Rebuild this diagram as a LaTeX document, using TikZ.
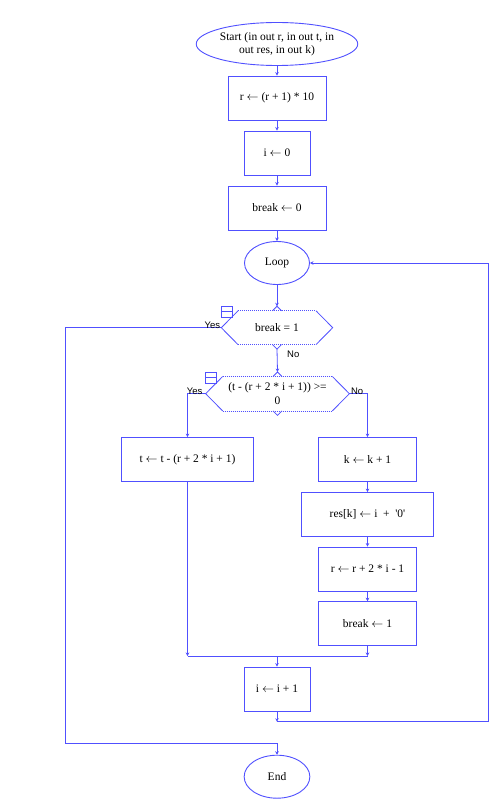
\documentclass[tikz,border=0pt]{standalone}
\usepackage{fontspec}
\setmainfont{Liberation Serif}
\newfontfamily\labfont{Liberation Sans}
\usetikzlibrary{shapes.geometric,arrows.meta,calc}
\definecolor{fc}{RGB}{80,80,255}
\newcommand\la{\ensuremath{\leftarrow}}
\newcommand\decoutline[2]{%
  \draw[fc, line width=0.8pt] ($(#1.north west)+(#2,0)$) -- (#1.west) -- ($(#1.south west)+(#2,0)$);
  \draw[fc, line width=0.8pt] ($(#1.north east)-(#2,0)$) -- (#1.east) -- ($(#1.south east)-(#2,0)$);
  \draw[fc, line width=0.7pt, dash pattern=on 1pt off 1pt] ($(#1.north west)+(#2,0)$) -- ($(#1.north east)-(#2,0)$);
  \draw[fc, line width=0.7pt, dash pattern=on 1pt off 1pt] ($(#1.south west)+(#2,0)$) -- ($(#1.south east)-(#2,0)$);
  \draw[fc, line width=0.8pt] ($(#1.north)+(-4.5,0)$) -- ($(#1.north)+(0,-4.5)$) -- ($(#1.north)+(4.5,0)$);
  \draw[fc, line width=0.8pt] ($(#1.south)+(-4.5,0)$) -- ($(#1.south)+(0,4.5)$) -- ($(#1.south)+(4.5,0)$);
  \draw[fc, line width=0.8pt] ($(#1.north west)+(0,-4.5)$) rectangle ++(11,11);
  \draw[fc, line width=0.8pt] ($(#1.north west)+(0,1)$) -- ++(11,0);
}
\begin{document}
\begin{tikzpicture}[x=1pt,y=-1pt,
  every node/.style={font=\fontsize{11.5}{13.5}\selectfont, text=black},
  box/.style={draw=fc, line width=0.9pt, minimum height=44pt, inner sep=0pt},
  term/.style={draw=fc, ellipse, line width=0.9pt, inner sep=0pt, minimum height=43pt},
  dec/.style={inner sep=0pt, align=center},
  conn/.style={draw=fc, line width=0.8pt},
  arr/.style={conn, -{Stealth[length=3.5pt,width=3.5pt]}},
  lab/.style={font=\labfont\fontsize{9.5}{11}\selectfont, inner sep=0pt}
]
\fill[white] (0,0) rectangle (500,810);
\useasboundingbox (0,0) rectangle (500,810);

\node[term, minimum width=131pt, align=center] (start) at (277,44) {Start (in out r, in out t, in\\out res, in out k)};
\node[box, minimum width=98pt] (b1) at (277,98) {r \la\ (r + 1) * 10};
\node[box, minimum width=66pt] (b2) at (277,153) {i \la\ 0};
\node[box, minimum width=98pt] (b3) at (277,208) {break \la\ 0};
\node[term, minimum width=65pt] (loop) at (277,263) {Loop};
\node[dec, minimum width=111pt, minimum height=33.4pt] (d1) at (277,327.7) {break = 1};
\node[dec, minimum width=143.3pt, minimum height=34pt] (d2) at (277.5,393.7) {(t - (r + 2 * i + 1)) >=\\0};
\node[box, minimum width=131.7pt] (t) at (187.5,459.5) {t \la\ t - (r + 2 * i + 1)};
\node[box, minimum width=98pt] (k) at (367.5,459.5) {k \la\ k + 1};
\node[box, minimum width=131.7pt] (res) at (367.5,514.5) {res[k] \la\ i \ + \ \textquotesingle0\textquotesingle};
\node[box, minimum width=98pt] (rr) at (367.5,569) {r \la\ r + 2 * i - 1};
\node[box, minimum width=98pt] (brk) at (367.5,623.7) {break \la\ 1};
\node[box, minimum width=66pt] (inc) at (277,689) {i \la\ i + 1};
\node[term, minimum width=65.7pt] (end) at (277,776.7) {End};

\decoutline{d1}{16.7}
\decoutline{d2}{17}

\coordinate (d1top) at ($(d1.north)+(0,-4.5)$);
\coordinate (d1bot) at ($(d1.south)+(0,4.5)$);
\coordinate (d2top) at ($(d2.north)+(0,-4.5)$);
\coordinate (yl) at (65.7,743.3);
\coordinate (m) at (277,656);
\coordinate (lb) at (277,721.7);
\coordinate (rb) at (488.3,721.7);

\draw[arr] (start) -- (b1);
\draw[arr] (b1) -- (b2);
\draw[arr] (b2) -- (b3);
\draw[arr] (b3) -- (loop);
\draw[arr] (loop) -- (d1top);
\draw[arr] (d1bot) -- (d2top);
\node[lab, anchor=base west] (no1) at (287,357.5) {No};
\draw[arr] (d1.west) -| (yl) -| (end.north);
\node[lab, anchor=base east] (yes1) at ($(d1.west)+(-1,0.5)$) {Yes};
\draw[arr] (d2.west) -| (t.north);
\node[lab, anchor=base east] (yes2) at ($(d2.west)+(-3,0.5)$) {Yes};
\draw[arr] (d2.east) -| (k.north);
\node[lab, anchor=base west] (no2) at ($(d2.east)+(1.5,0.5)$) {No};
\draw[arr] (k) -- (res);
\draw[arr] (res) -- (rr);
\draw[arr] (rr) -- (brk);
\draw[arr] (t) -- (t |- m);
\draw[arr] (brk) -- (brk |- m);
\draw[conn] (t |- m) -- (brk |- m);
\draw[arr] (m) -- (inc);
\draw[arr] (inc) -- (lb);
\draw[arr] (lb) -- (rb) |- (loop.east);
\end{tikzpicture}
\end{document}
